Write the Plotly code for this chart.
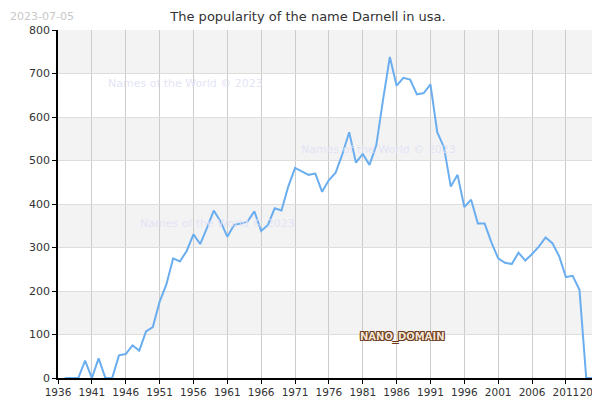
import plotly.graph_objects as go

years = list(range(1937, 2016))
counts = [0, 0, 0, 40, 0, 45, 0, 0, 52, 55, 75, 63, 107, 117, 175, 215, 275, 268, 292, 330,
          308, 345, 385, 360, 325, 352, 355, 360, 383, 338, 352, 390, 385, 440, 483, 475, 467, 470,
          428, 455, 472, 515, 565, 495, 515, 490, 535, 640, 738, 672, 690, 686, 652, 655, 675,
          565, 530, 440, 467, 393, 410, 355, 355, 312, 275, 265, 262, 288, 270, 285, 302, 323,
          310, 280, 232, 235, 203, 0, 0]
tick_years = list(range(1936, 2016, 5)) + [2015]

fig = go.Figure()
fig.add_trace(go.Scatter(x=years, y=counts, mode="lines",
                         line=dict(color="#6aaef0", width=2), hoverinfo="x+y"))

# alternating grey bands
for lo in [100, 300, 500, 700]:
    fig.add_hrect(y0=lo, y1=lo + 100, fillcolor="#f3f3f3", line_width=0, layer="below")

wm = "rgba(225,225,245,0.9)"
fig.add_annotation(x=0.09, y=0.87, xref="paper", yref="paper", text="Names of the World © 2023",
                   showarrow=False, xanchor="left", font=dict(size=11, color=wm))
fig.add_annotation(x=0.45, y=0.68, xref="paper", yref="paper", text="Names of the World © 2023",
                   showarrow=False, xanchor="left", font=dict(size=11, color=wm))
fig.add_annotation(x=0.15, y=0.445, xref="paper", yref="paper", text="Names of the World © 2023",
                   showarrow=False, xanchor="left", font=dict(size=11, color=wm))
fig.add_annotation(x=0.56, y=0.095, xref="paper", yref="paper", text="<b>NANO_DOMAIN</b>",
                   showarrow=False, xanchor="left",
                   font=dict(size=10, color="#f3e6d8", family="DejaVu Sans",
                             shadow="1px 1px 0 #6b3a1a, -1px -1px 0 #6b3a1a, 1px -1px 0 #6b3a1a, -1px 1px 0 #6b3a1a"))
fig.add_annotation(x=0, y=1, xref="paper", yref="paper", text="2023-07-05", xshift=-50, yshift=22,
                   showarrow=False, xanchor="left", yanchor="top",
                   font=dict(size=11, color="#c8c8c8"))

fig.update_layout(
    width=600, height=400,
    margin=dict(l=50, r=15, t=22, b=30),
    plot_bgcolor="white", paper_bgcolor="white",
    showlegend=False,
    font=dict(family="DejaVu Sans", size=11, color="#333"),
    title=dict(text="The popularity of the name Darnell in usa.", x=0.5, xanchor="center",
               y=0.99, yanchor="top", font=dict(size=13, color="#333")),
    xaxis=dict(range=[1936, 2015], tickvals=tick_years, tickangle=0, automargin=False,
               tickfont=dict(size=10.5), showgrid=True, gridcolor="#cccccc",
               showline=True, linecolor="black", linewidth=1.5, ticks="outside", ticklen=4,
               tickcolor="black", zeroline=False, mirror=False),
    yaxis=dict(range=[0, 800], dtick=100, automargin=False, showgrid=True, gridcolor="#dddddd",
               showline=True, linecolor="black", linewidth=1.5, ticks="outside", ticklen=4,
               tickcolor="black", zeroline=False),
)

fig.write_html("out.html")
